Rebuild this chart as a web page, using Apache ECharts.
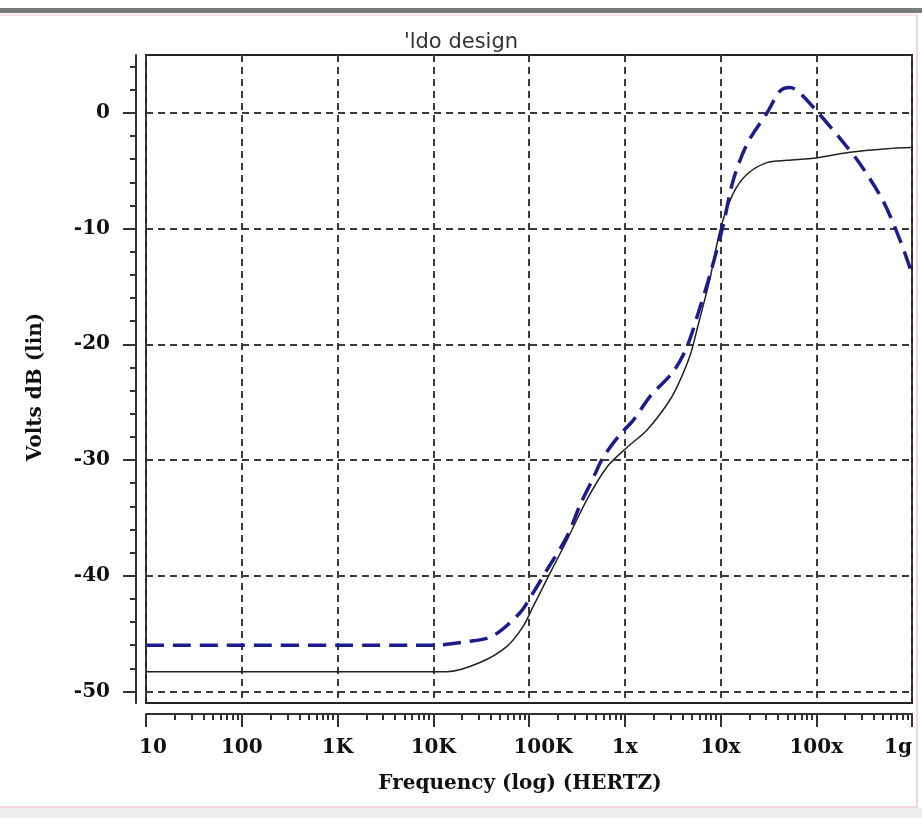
<!DOCTYPE html>
<html>
<head>
<meta charset="utf-8">
<title>ldo design</title>
<script src="https://cdn.jsdelivr.net/npm/echarts@6/dist/echarts.min.js"></script>
<style>
  html, body { margin: 0; padding: 0; background: #fff; }
  #chart { width: 922px; height: 818px; }
</style>
</head>
<body>
<div id="chart"></div>
<script>
// frequency ticks (Hz) and their labels
const freqTicks = [10, 100, 1e3, 1e4, 1e5, 1e6, 1e7, 1e8, 1e9]
const freqLabels = ['10', '100', '1K', '10K', '100K', '1x', '10x', '100x', '1g']
const dbTicks = [-50, -40, -30, -20, -10, 0]

// dashed blue trace, [Hz, dB]
const blueFreq = [10, 1e4, 2.25e4, 4.2e4, 8.05e4, 1.1e5, 1.54e5, 2.5e5, 3.41e5, 4.66e5,
  5.93e5, 8.92e5, 1.22e6, 1.84e6, 3.19e6, 4.47e6, 6.11e6, 7.77e6, 1.06e7, 1.35e7,
  1.89e7, 3.06e7, 4.2e7, 5.32e7, 6.6e7, 1e8, 1.77e8, 2.86e8, 4.98e8, 7.5e8, 1e9]
const blueDb = [-46.0, -46.0, -45.7, -45.2, -43.2, -41.5, -39.5, -36.6, -33.9, -31.6,
  -29.8, -27.8, -26.6, -24.5, -22.4, -20.2, -16.8, -14.0, -9.8, -5.9,
  -2.7, 0.0, 1.9, 2.2, 1.8, 0.2, -2.2, -4.4, -7.6, -11.0, -13.9]

// solid black trace, [Hz, dB]
const blackFreq = [10, 1.39e4, 3.08e4, 5.89e4, 8.65e4, 1.1e5, 1.54e5, 2.5e5, 4.04e5, 6.53e5,
  1.06e6, 1.71e6, 2.76e6, 3.51e6, 4.8e6, 5.69e6, 7.77e6, 1e7, 1.35e7, 1.89e7,
  3.06e7, 4.94e7, 1e8, 2.25e8, 5.48e8, 1e9]
const blackDb = [-48.3, -48.3, -47.5, -46.1, -44.4, -42.7, -40.3, -36.9, -33.4, -30.6,
  -28.9, -27.4, -25.2, -23.7, -21.0, -18.7, -14.3, -10.0, -7.0, -5.3,
  -4.3, -4.1, -3.9, -3.4, -3.1, -3.0]

// minor tick positions: 2..9 per decade, every 2 dB
const freqMinor = []
for (let d = 10; d < 1e9; d *= 10) {
  for (let k = 2; k <= 9; k++) freqMinor.push(d * k)
}
const dbMinor = []
for (let v = -50; v <= 4; v += 2) dbMinor.push(v)

const labelFont = {
  fontFamily: 'DejaVu Serif',
  fontWeight: 'bold',
  fontSize: 20,
  color: '#111',
}
const gridLine = { color: '#3a3a3a', width: 2, type: [7, 5] }
const axisLine = { show: true, onZero: false, lineStyle: { color: '#333', width: 2 } }

function freqLabel(v) {
  const i = freqTicks.findIndex((t) => Math.abs(Math.log10(t) - Math.log10(v)) < 1e-6)
  const txt = freqLabels[i]
  // the old plotter nudged a few labels off their tick
  if (txt === '10') return '{lft|' + txt + '}'
  if (txt === '100K') return '{shift|' + txt + '}'
  return txt
}

const chart = echarts.init(document.getElementById('chart'))
chart.setOption({
  animation: false,
  backgroundColor: '#fff',
  title: {
    text: "'ldo design",
    left: 'center',
    top: 27,
    textStyle: {
      fontFamily: 'DejaVu Sans',
      fontWeight: 'normal',
      fontSize: 21,
      color: '#333',
    },
  },
  graphic: [
    { type: 'rect', shape: { x: 0, y: 8, width: 922, height: 5 }, style: { fill: '#7a7a7a' } },
    { type: 'rect', shape: { x: 0, y: 14, width: 918, height: 2 }, style: { fill: '#f6e1e4' } },
    { type: 'rect', shape: { x: 916, y: 14, width: 2, height: 794 }, style: { fill: '#f3d6da' } },
    { type: 'rect', shape: { x: 0, y: 806, width: 918, height: 2 }, style: { fill: '#f3d6da' } },
    { type: 'rect', shape: { x: 0, y: 808, width: 922, height: 10 }, style: { fill: '#ededed' } },
  ],
  grid: {
    left: 146,
    right: 10,
    top: 55,
    bottom: 115,
    outerBoundsMode: 'none',
    show: true,
    borderColor: '#222',
    borderWidth: 2,
    backgroundColor: '#fff',
  },
  xAxis: [
    {
      type: 'log',
      logBase: 10,
      min: 10,
      max: 1e9,
      position: 'bottom',
      offset: 11,
      name: 'Frequency (log) (HERTZ)',
      nameLocation: 'middle',
      nameGap: 60,
      nameTextStyle: Object.assign({}, labelFont, { padding: [0, 18, 0, 0] }),
      axisLine: axisLine,
      axisTick: { show: true, length: 13, customValues: freqTicks, lineStyle: { color: '#333', width: 2 } },
      axisLabel: {
        customValues: freqTicks,
        margin: 24,
        alignMaxLabel: 'right',
        formatter: freqLabel,
        ...labelFont,
        rich: {
          lft: Object.assign({}, labelFont, { padding: [0, 0, 0, 14] }),
          shift: Object.assign({}, labelFont, { padding: [0, 0, 0, 28] }),
        },
      },
      splitLine: { show: true, lineStyle: gridLine },
    },
    {
      type: 'log',
      logBase: 10,
      min: 10,
      max: 1e9,
      position: 'bottom',
      offset: 11,
      axisLine: { show: false, onZero: false },
      axisTick: { show: true, length: 6, customValues: freqMinor, lineStyle: { color: '#333', width: 2 } },
      axisLabel: { show: false },
      splitLine: { show: false },
    },
  ],
  yAxis: [
    {
      type: 'value',
      min: -51,
      max: 5,
      position: 'left',
      offset: 10,
      name: 'Volts dB (lin)',
      nameLocation: 'middle',
      nameGap: 90,
      nameTextStyle: Object.assign({}, labelFont, { padding: [0, 16, 0, 0] }),
      axisLine: axisLine,
      axisTick: { show: true, length: 13, customValues: dbTicks, lineStyle: { color: '#333', width: 2 } },
      axisLabel: { customValues: dbTicks, margin: 26, ...labelFont },
      splitLine: { show: true, lineStyle: gridLine },
    },
    {
      type: 'value',
      min: -51,
      max: 5,
      position: 'left',
      offset: 10,
      axisLine: { show: false, onZero: false },
      axisTick: { show: true, length: 6, customValues: dbMinor, lineStyle: { color: '#333', width: 2 } },
      axisLabel: { show: false },
      splitLine: { show: false },
    },
  ],
  series: [
    {
      name: 'blue',
      type: 'line',
      xAxisIndex: 0,
      yAxisIndex: 0,
      smooth: 0.3,
      showSymbol: false,
      lineStyle: { color: '#1c1c8c', width: 3.5, type: [18, 9] },
      data: blueFreq.map((f, i) => [f, blueDb[i]]),
      z: 3,
    },
    {
      name: 'black',
      type: 'line',
      xAxisIndex: 0,
      yAxisIndex: 0,
      smooth: 0.3,
      showSymbol: false,
      lineStyle: { color: '#222', width: 1.5 },
      data: blackFreq.map((f, i) => [f, blackDb[i]]),
      z: 2,
    },
  ],
})
</script>
</body>
</html>
